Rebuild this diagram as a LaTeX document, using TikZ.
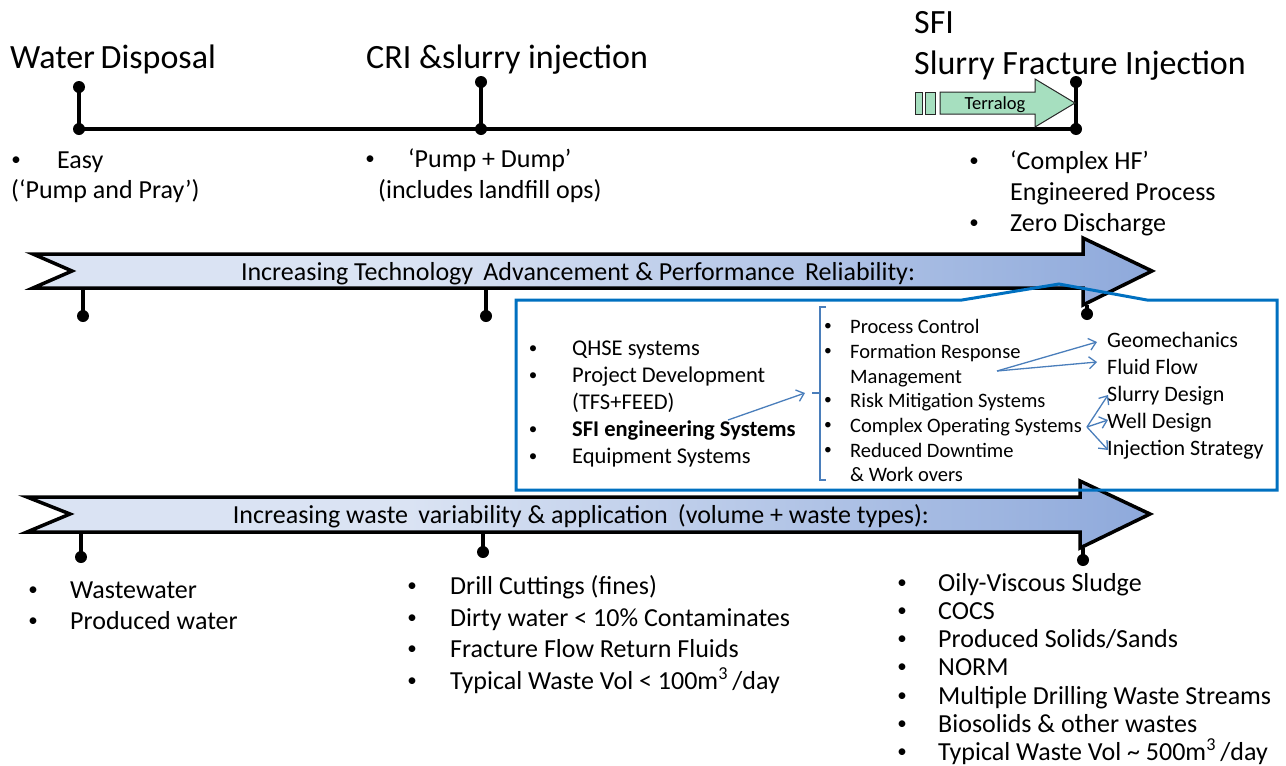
\documentclass[tikz,border=0pt]{standalone}
\usepackage{fontspec}
\setmainfont{Carlito}
\usetikzlibrary{arrows.meta}
\definecolor{boxblue}{HTML}{0070C0}
\definecolor{linkblue}{HTML}{4A7EBB}
\definecolor{mint}{HTML}{A6DFBF}
\definecolor{fadeL}{HTML}{DAE3F3}
\definecolor{fadeR}{HTML}{8EA9DB}
\pgfdeclarehorizontalshading{bandfade}{100bp}{color(0bp)=(fadeL); color(25bp)=(fadeL); color(42bp)=(fadeL); color(75bp)=(fadeR); color(100bp)=(fadeR)}
\newcommand{\fs}[1]{\fontsize{#1}{#1}\selectfont}
\begin{document}
\begin{tikzpicture}[x=1pt,y=-1pt,
  txt/.style={anchor=west, inner sep=0pt, text depth=0pt},
  title/.style={txt, text height=24pt, font=\fs{34}},
  body/.style={txt, text height=18pt, font=\fs{26}},
  band/.style={txt, anchor=center, text height=18pt, font=\fs{26}},
  boxl/.style={txt, text height=16pt, font=\fs{22.5}},
  boxm/.style={txt, text height=16pt, font=\fs{20.5}},
  boxr/.style={txt, text height=16pt, font=\fs{22}},
  bul/.style={anchor=center, inner sep=0pt, text depth=0pt, text height=#1},
  bul/.default=12pt,
  tl/.style={line width=4pt},
  bandarrow/.style={draw=black, line width=3.5pt, line join=miter, shading=bandfade},
  link/.style={draw=linkblue, line width=1.3pt, -{Straight Barb[length=7pt,width=12pt]}},
]
\useasboundingbox (0,0) rectangle (1286,766);

% ---------- top timeline ----------
\coordinate (t1) at (79,129);  \coordinate (t1u) at (79,87);
\coordinate (t2) at (481,129); \coordinate (t2u) at (481,82);
\coordinate (t3) at (1076,129);\coordinate (t3u) at (1076,82);
\draw[tl] (t1) -- (t3);
\draw[tl] (t1) -- (t1u);
\draw[tl] (t2) -- (t2u);
\draw[tl] (t3) -- (t3u);
\foreach \p in {t1,t1u,t2,t2u,t3,t3u} \fill (\p) circle (6);

\node[title] (wd)  at (10,56)  {Water\,Disposal};
\node[title] (cri) at (366,56) {CRI \&slurry injection};
\node[title] (sfi) at (914,21) {SFI};
\node[title] (sfj) at (914,62) {Slurry Fracture Injection};

% Terralog arrow
\draw[fill=mint, draw=black!85, line width=1pt] (915,92) rectangle (922,114);
\draw[fill=mint, draw=black!85, line width=1pt] (925,92) rectangle (935,114);
\draw[fill=mint, draw=black!85, line width=1pt]
  (940,92) -- (1035,92) -- (1035,79) -- (1075,103) -- (1035,127) -- (1035,114) -- (940,114) -- cycle;
\node[txt, anchor=center, text height=13pt, font=\fs{18.5}] (terra) at (995,103) {Terralog};

% lists under the top timeline
\node[bul, font=\fs{19}] at (16,159) {•};  \node[body] (e1) at (57,159) {Easy};
\node[body] (e2) at (11,189) {(‘Pump and Pray’)};
\node[bul, font=\fs{19}] at (370,158) {•}; \node[body] (c1) at (408,158) {‘Pump + Dump’};
\node[body] (c2) at (378,189) {(includes landfill ops)};
\node[bul, font=\fs{19}] at (974,160) {•}; \node[body] (s1) at (1010,160) {‘Complex HF’};
\node[body] (s2) at (1010,191) {Engineered Process};
\node[bul, font=\fs{19}] at (974,222) {•}; \node[body] (s3) at (1010,222) {Zero Discharge};

% ---------- technology band ----------
\path[bandarrow] (33,254) -- (1083,254) -- (1083,238) -- (1152,271) -- (1083,305)
  -- (1083,288) -- (33,288) -- (72,271) -- cycle;
\node[band] (techtxt) at (578,271) {Increasing Technology\, Advancement \& Performance\, Reliability:};
\coordinate (a1) at (83,288);   \coordinate (a1d) at (83,316);
\coordinate (a2) at (486,288);  \coordinate (a2d) at (486,316);
\coordinate (a3) at (1087,305); \coordinate (a3d) at (1087,314);
\draw[tl] (a1) -- (a1d); \draw[tl] (a2) -- (a2d); \draw[tl] (a3) -- (a3d);
\foreach \p in {a1d,a2d,a3d} \fill (\p) circle (6);

% ---------- waste band ----------
\path[bandarrow] (27,497) -- (1080,497) -- (1080,481) -- (1150,514) -- (1080,548)
  -- (1080,532) -- (27,532) -- (70,514) -- cycle;
\node[band] (wastetxt) at (581,514) {Increasing waste\, variability \& application\, (volume + waste types):};
\coordinate (b1) at (81,532);   \coordinate (b1d) at (81,557);
\coordinate (b2) at (483,532);  \coordinate (b2d) at (483,552);
\coordinate (b3) at (1083,548); \coordinate (b3d) at (1083,560);
\draw[tl] (b1) -- (b1d); \draw[tl] (b2) -- (b2d); \draw[tl] (b3) -- (b3d);
\foreach \p in {b1d,b2d,b3d} \fill (\p) circle (6);

% ---------- engineering systems box ----------
\node[bul, font=\fs{17}] at (533,347) {•}; \node[boxl] (q1) at (572,347) {QHSE systems};
\node[bul, font=\fs{17}] at (533,374) {•}; \node[boxl] (q2) at (572,374) {Project Development};
\node[boxl] (q3) at (572,401) {(TFS+FEED)};
\node[bul, font=\fs{17}] at (533,428) {•}; \node[boxl, font=\fs{22.5}\bfseries] (q4) at (572,428) {SFI engineering Systems};
\node[bul, font=\fs{17}] at (533,455) {•}; \node[boxl] (q5) at (572,455) {Equipment Systems};

\coordinate (brT) at (826,307); \coordinate (brTL) at (820,307);
\coordinate (brB) at (826,480); \coordinate (brBL) at (820,480);
\coordinate (brM) at (820,393); \coordinate (brMo) at (812,393);
\draw[linkblue, line width=1.2pt] (brT) -- (brTL) -- (brBL) -- (brB);
\draw[linkblue, line width=1.2pt] (brMo) -- (brM);

\node[bul=11pt, font=\fs{15.5}] at (828,325) {•}; \node[boxm] (m1) at (850,325) {Process Control};
\node[bul=11pt, font=\fs{15.5}] at (828,350) {•}; \node[boxm] (m2) at (850,350) {Formation Response};
\node[boxm] (m3) at (850,375) {Management};
\node[bul=11pt, font=\fs{15.5}] at (828,399) {•}; \node[boxm] (m4) at (850,399) {Risk Mitigation Systems};
\node[bul=11pt, font=\fs{15.5}] at (828,424) {•}; \node[boxm] (m5) at (850,424) {Complex Operating Systems};
\node[bul=11pt, font=\fs{15.5}] at (828,449) {•}; \node[boxm] (m6) at (850,449) {Reduced Downtime};
\node[boxm] (m7) at (850,473) {\& Work overs};

\node[boxr] (r1) at (1107,339) {Geomechanics};
\node[boxr] (r2) at (1107,366) {Fluid Flow};
\node[boxr] (r3) at (1107,393) {Slurry Design};
\node[boxr] (r4) at (1107,420) {Well Design};
\node[boxr] (r5) at (1107,447) {Injection Strategy};

% connector ends
\coordinate (q4s) at (728,420);  \coordinate (brIn) at (805,393);
\coordinate (m3s) at (997,371);
\coordinate (r1e) at (1097,342); \coordinate (r2e) at (1097,362);
\coordinate (m5s) at (1087,427);
\coordinate (r3e) at (1108,395); \coordinate (r4e) at (1108,420); \coordinate (r5e) at (1108,450);
\draw[link] (q4s) -- (brIn);
\draw[link] (m3s) -- (r1e);
\draw[link] (m3s) -- (r2e);
\draw[link] (m5s) -- (r3e);
\draw[link] (m5s) -- (r4e);
\draw[link] (m5s) -- (r5e);

% callout outline
\draw[boxblue, line width=3pt, line join=miter]
  (516,300) -- (962,300) -- (1059,284) -- (1147,300) -- (1277,300) -- (1277,490) -- (516,490) -- cycle;

% ---------- lists under the waste band ----------
\node[bul, font=\fs{19}] at (33,589) {•}; \node[body] (w1) at (70,589) {Wastewater};
\node[bul, font=\fs{19}] at (33,620) {•}; \node[body] (w2) at (70,620) {Produced water};

\node[bul, font=\fs{19}] at (412,585) {•}; \node[body] (d1) at (450,585) {Drill Cuttings (fines)};
\node[bul, font=\fs{19}] at (412,617) {•}; \node[body] (d2) at (450,617) {Dirty water < 10\% Contaminates};
\node[bul, font=\fs{19}] at (412,648) {•}; \node[body] (d3) at (450,648) {Fracture Flow Return Fluids};
\node[bul, font=\fs{19}] at (412,680) {•}; \node[body] (d4) at (450,680) {Typical Waste Vol < 100m\textsuperscript{3}\,/day};

\node[bul, font=\fs{19}] at (902,582) {•}; \node[body] (o1) at (938,582) {Oily-Viscous Sludge};
\node[bul, font=\fs{19}] at (902,610) {•}; \node[body] (o2) at (938,610) {COCS};
\node[bul, font=\fs{19}] at (902,638) {•}; \node[body] (o3) at (938,638) {Produced Solids/Sands};
\node[bul, font=\fs{19}] at (902,666) {•}; \node[body] (o4) at (938,666) {NORM};
\node[bul, font=\fs{19}] at (902,695) {•}; \node[body] (o5) at (938,695) {Multiple Drilling Waste Streams};
\node[bul, font=\fs{19}] at (902,723) {•}; \node[body] (o6) at (938,723) {Biosolids \& other wastes};
\node[bul, font=\fs{19}] at (902,751) {•}; \node[body] (o7) at (938,751) {Typical Waste Vol \textasciitilde{} 500m\textsuperscript{3}\,/day};
\end{tikzpicture}
\end{document}
